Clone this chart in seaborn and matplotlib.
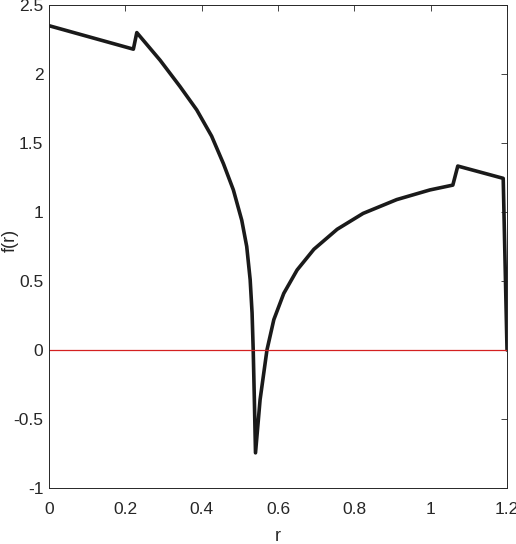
import numpy as np
import pandas as pd
import matplotlib
matplotlib.use('Agg')
import matplotlib.pyplot as plt
import seaborn as sns

# values
r_vals = [0.0, 0.221, 0.230, 0.291, 0.343, 0.387, 0.426, 0.457, 0.483,
          0.505, 0.518, 0.527, 0.532, 0.535, 0.538, 0.541,
          0.553, 0.571, 0.589, 0.615, 0.650, 0.694, 0.755, 0.823, 0.911,
          0.998, 1.058, 1.071, 1.190, 1.200]
f_vals = [2.35, 2.18, 2.30, 2.10, 1.91, 1.74, 1.55, 1.35, 1.16,
          0.94, 0.75, 0.51, 0.27, 0.00, -0.36, -0.745,
          -0.36, 0.00, 0.22, 0.41, 0.58, 0.73, 0.875, 0.99, 1.09,
          1.16, 1.195, 1.333, 1.244, 0.00]
zero_r = [0.0, 1.2]
zero_f = [0.0, 0.0]

x_ticks = [0, 0.2, 0.4, 0.6, 0.8, 1, 1.2]
x_labels = ['0', '0.2', '0.4', '0.6', '0.8', '1', '1.2']
y_ticks = [-1, -0.5, 0, 0.5, 1, 1.5, 2, 2.5]
y_labels = ['-1', '-0.5', '0', '0.5', '1', '1.5', '2', '2.5']

sns.set_style('white')
plt.rcParams['font.family'] = ['Liberation Sans', 'DejaVu Sans']

df = pd.DataFrame({'r': r_vals, 'f': f_vals})

fig = plt.figure(figsize=(5.16, 5.44), dpi=100)
ax = fig.add_axes([0.095, 0.1029, 0.8876, 0.8879])

sns.lineplot(data=df, x='r', y='f', sort=False, estimator=None,
             color='#1a1a1a', linewidth=2.6, ax=ax)
sns.lineplot(x=zero_r, y=zero_f, color='#d42020', linewidth=0.9, ax=ax)

ax.set_xlim(0, 1.2)
ax.set_ylim(-1, 2.5)
ax.set_xticks(x_ticks)
ax.set_xticklabels(x_labels)
ax.set_yticks(y_ticks)
ax.set_yticklabels(y_labels)
ax.tick_params(direction='in', length=4, width=0.6, top=True, right=True,
               colors='#262626', labelsize=12.5)
ax.tick_params(axis='x', pad=10)
ax.tick_params(axis='y', pad=4)
for s in ax.spines.values():
    s.set_color('#262626')
    s.set_linewidth(0.7)
ax.set_xlabel('r', fontsize=13, color='#262626')
ax.set_ylabel('f(r)', fontsize=13, color='#262626')
ax.xaxis.set_label_coords(0.5, -0.083)
ax.yaxis.set_label_coords(-0.066, 0.513)

plt.savefig('out.png', dpi=100)
